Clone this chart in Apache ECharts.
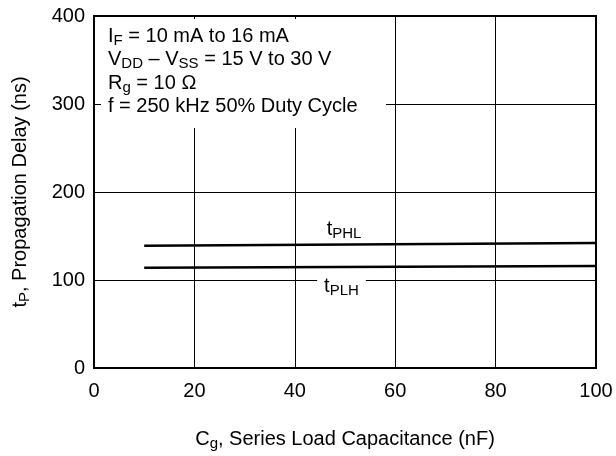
<!DOCTYPE html>
<html>
<head>
<meta charset="utf-8">
<script src="https://cdn.jsdelivr.net/npm/echarts@6/dist/echarts.min.js"></script>
<style>
  html, body { margin: 0; background: #fff; }
  #main { width: 616px; height: 456px; }
</style>
</head>
<body>
<div id="main"></div>
<script>
const FONT = '"Liberation Sans", Arial, sans-serif';

// axis ranges / ticks
const xTicks = [0, 20, 40, 60, 80, 100];
const yTicks = [0, 100, 200, 300, 400];

// propagation delay vs series load capacitance (nF, ns)
const tPHL = [[10, 139], [100, 142]];
const tPLH = [[10, 114], [100, 116]];

// where the curve names sit (data coords)
const phlLabelAt = [49.8, 157];
const plhLabelAt = [49.3, 93];

const conditions = [
  '{m|I}{s|F}{m| = 10 mA to 16 mA}',
  '{m|V}{s|DD}{m| \u2013 V}{s|SS}{m| = 15 V to 30 V}',
  '{m|R}{s|g}{m| = 10 \u03a9}',
  '{m|f = 250 kHz 50% Duty Cycle}'
];

const rich = {
  m: { fontFamily: FONT, fontSize: 20, color: '#000', lineHeight: 22 },
  s: { fontFamily: FONT, fontSize: 15, color: '#000', lineHeight: 22, padding: [9, 0, 0, 0] }
};

const chart = echarts.init(document.getElementById('main'), null, { renderer: 'canvas' });

function curve(name, data, labelAt, bg) {
  return {
    name: name,
    type: 'line',
    data: data,
    symbol: 'none',
    z: 5,
    lineStyle: { color: '#000', width: 2.5 },
    markPoint: {
      symbol: 'rect',
      symbolSize: 0,
      silent: true,
      data: [{ coord: labelAt }],
      label: {
        show: true,
        position: 'inside',
        formatter: '{m|t}{s|' + name + '}',
        backgroundColor: bg,
        padding: [0, 7],
        rich: rich
      }
    }
  };
}

chart.setOption({
  animation: false,
  backgroundColor: '#fff',
  grid: {
    left: 91, right: 20, top: 16, bottom: 87,
    show: true, borderColor: '#000', borderWidth: 2
  },
  xAxis: {
    type: 'value',
    min: xTicks[0], max: xTicks[xTicks.length - 1], interval: 20,
    name: '{m|C}{s|g}{m|, Series Load Capacitance (nF)}',
    nameLocation: 'middle',
    nameGap: 60,
    nameTextStyle: { rich: rich },
    axisLine: { lineStyle: { color: '#000', width: 2 } },
    axisTick: { show: false },
    axisLabel: { margin: 13, color: '#000', fontSize: 20, fontFamily: FONT },
    splitLine: { lineStyle: { color: '#000', width: 1 } }
  },
  yAxis: {
    type: 'value',
    min: yTicks[0], max: yTicks[yTicks.length - 1], interval: 100,
    name: '{m|t}{s|P}{m|, Propagation Delay (ns)}',
    nameLocation: 'middle',
    nameGap: 63,
    nameTextStyle: { rich: rich },
    axisLine: { show: true, lineStyle: { color: '#000', width: 2 } },
    axisTick: { show: false },
    axisLabel: { margin: 9, color: '#000', fontSize: 20, fontFamily: FONT },
    splitLine: { lineStyle: { color: '#000', width: 1 } }
  },
  series: [
    curve('PHL', tPHL, phlLabelAt, 'transparent'),
    curve('PLH', tPLH, plhLabelAt, '#fff')
  ],
  graphic: [
    {
      type: 'rect',
      shape: { x: 101, y: 19, width: 285, height: 109 },
      style: { fill: '#fff' },
      z: 10
    }
  ].concat(conditions.map(function (line, i) {
    return {
      type: 'text',
      x: 108,
      y: [36, 59.5, 83, 106.5][i],
      z: 11,
      style: { text: line, rich: rich, verticalAlign: 'middle', align: 'left' }
    };
  }))
});
</script>
</body>
</html>
